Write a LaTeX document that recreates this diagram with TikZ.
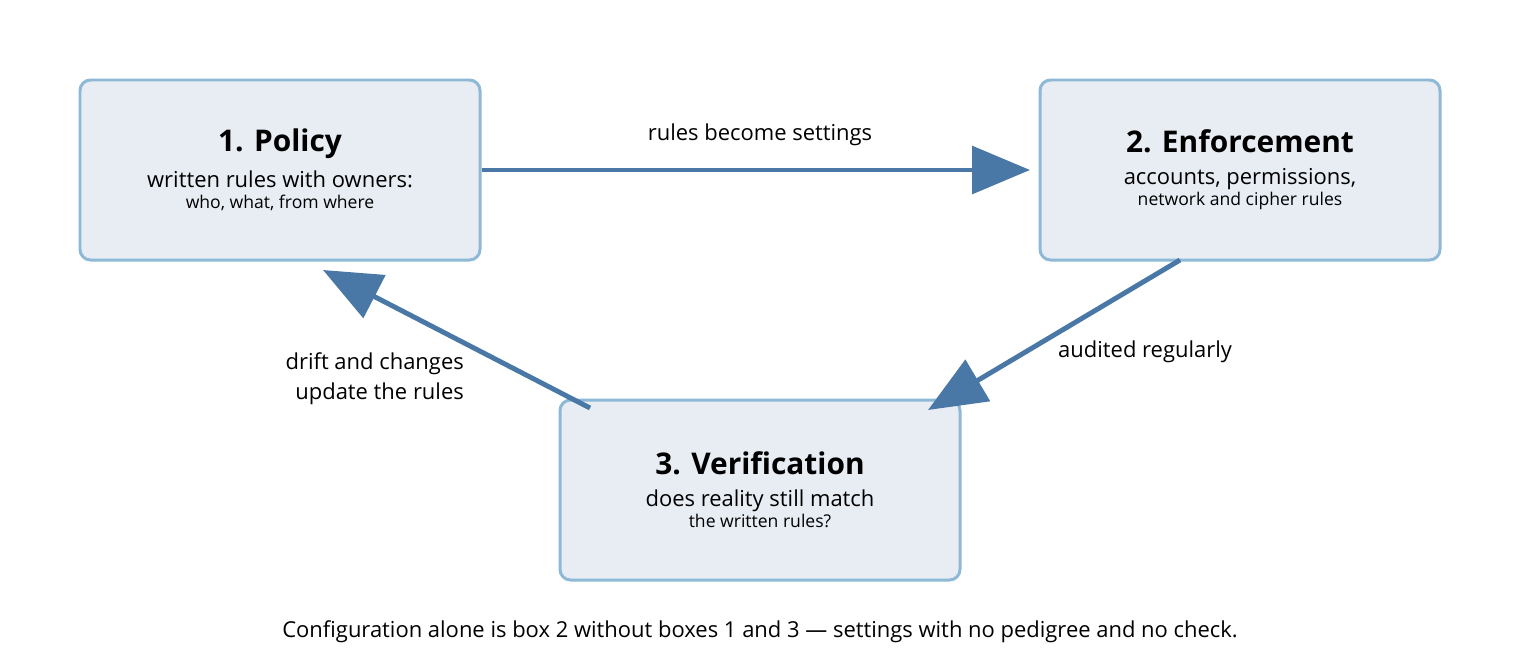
\documentclass[tikz,border=0pt]{standalone}
\usepackage{fontspec}
\setmainfont{Open Sans}
\usetikzlibrary{arrows.meta}
\definecolor{boxfill}{HTML}{E8EDF3}
\definecolor{boxline}{HTML}{8DB8D6}
\definecolor{flow}{HTML}{4A78A6}
\newcommand{\px}[0] {0.02}
\newcommand{\bigt}[0] {\fontsize{17}{22}\selectfont\bfseries}
\newcommand{\smallt}[0] {\fontsize{12.5}{19}\selectfont\mdseries}

\begin{document}
\begin{tikzpicture}[x=\px cm, y=-\px cm,
    stage/.style={draw=boxline, fill=boxfill, line width=1.7pt, rounded corners=6pt,
        minimum width=400*\px cm, minimum height=180*\px cm, align=center},
    flowarrow/.style={draw=flow, line width=2.8pt, -{Triangle[length=33pt, width=27pt]}},
    note/.style={font=\fontsize{12.5}{17}\selectfont}]
        \useasboundingbox (0,0) rectangle (1520,660);
        \node[stage] (a) at (280,170)
            {\bigt 1. Policy\\[6pt] \smallt written rules with owners:\\ who, what, from where};
        \node[stage] (b) at (1240,170)
            {\bigt 2. Enforcement\\[6pt] \smallt accounts, permissions,\\ network and cipher rules};
        \node[stage] (c) at (760,490)
            {\bigt 3. Verification\\[6pt] \smallt does reality still match\\ the written rules?};

        %arrow end points
        \coordinate (bin) at (1030,170);
        \coordinate (bout) at (1180,260);
        \coordinate (cin) at (928,410);
        \coordinate (cout) at (590,408);
        \coordinate (ain) at (323,270);

        \path[flowarrow] (a.east) -- (bin);
        \path[flowarrow] (bout) -- (cin);
        \path[flowarrow] (cout) -- (ain);

        \node[note] (l1) at (760,135) {rules become settings};
        \node[note, anchor=west] (l2) at (1052,352) {audited regularly};
        \node[note, anchor=east, align=right] (l3) at (470,379) {drift and changes\\ update the rules};
        \node[note] (cap) at (760,632)
            {Configuration alone is box 2 without boxes 1 and 3 — settings with no pedigree and no check.};
\end{tikzpicture}
\end{document}
